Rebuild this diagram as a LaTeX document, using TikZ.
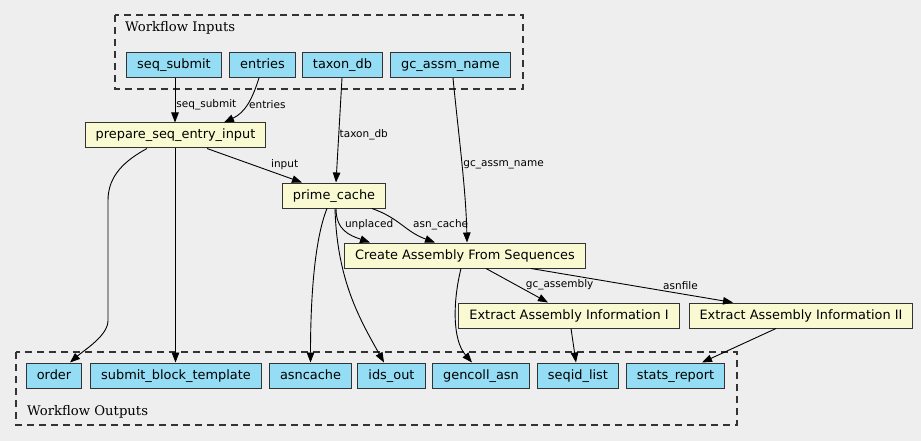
\documentclass[tikz,border=0pt]{standalone}
\usepackage{fontspec}
\setmainfont{DejaVu Sans}
\newfontfamily\clusterfont{DejaVu Serif}
\usepackage{xcolor}
\usetikzlibrary{arrows.meta}
\definecolor{bgcol}{RGB}{238,238,238}
\definecolor{iocol}{RGB}{148,221,244}
\definecolor{stepcol}{RGB}{250,250,210}
\definecolor{edgecol}{RGB}{51,51,51}

\begin{document}
\begin{tikzpicture}[x=1pt,y=1pt,yscale=-1,xscale=1,
    box/.style={draw=edgecol,line width=1pt,minimum height=25pt,inner xsep=10.5pt,inner ysep=0pt,
        text height=9.8pt,text depth=2.8pt,font=\fontsize{12.9}{14}\selectfont},
    iobox/.style={box,fill=iocol},
    stepbox/.style={box,fill=stepcol},
    flow/.style={draw=black,line width=0.9pt,-{Triangle[length=10pt,width=7.5pt]}},
    elabel/.style={inner sep=1pt,font=\fontsize{10.5}{12}\selectfont},
    cluster/.style={draw=edgecol,line width=1.3pt,dash pattern=on 7pt off 5pt},
    clabel/.style={anchor=west,inner sep=0pt,font=\clusterfont\fontsize{13.2}{14}\selectfont}]
        \fill[bgcol] (0,0) rectangle (921,441);
        \useasboundingbox (0,0) rectangle (921,441);

        \draw[cluster] (115,15) rectangle (523,89);
        \node[clabel] (inlabel) at (125,27.5) {Workflow Inputs};
        \draw[cluster] (16,352) rectangle (737,425);
        \node[clabel] (outlabel) at (27,411.5) {Workflow Outputs};

        \node[iobox] (seq) at (174,65) {seq\_submit};
        \node[iobox] (entries) at (262.5,65) {entries};
        \node[iobox] (taxon) at (342.5,65) {taxon\_db};
        \node[iobox] (gcname) at (450.5,65) {gc\_assm\_name};

        \node[stepbox] (prep) at (175.5,135.5) {prepare\_seq\_entry\_input};
        \node[stepbox] (prime) at (334,195.5) {prime\_cache};
        \node[stepbox] (create) at (465,255.5) {Create Assembly From Sequences};
        \node[stepbox] (extractI) at (569,315.5) {Extract Assembly Information I};
        \node[stepbox] (extractII) at (801,315.5) {Extract Assembly Information II};

        \node[iobox] (order) at (54,375.5) {order};
        \node[iobox] (subm) at (176,375.5) {submit\_block\_template};
        \node[iobox] (asncache) at (310.5,375.5) {asncache};
        \node[iobox] (idsout) at (391.5,375.5) {ids\_out};
        \node[iobox] (gencoll) at (481,375.5) {gencoll\_asn};
        \node[iobox] (seqid) at (578,375.5) {seqid\_list};
        \node[iobox] (stats) at (675.5,375.5) {stats\_report};

        \draw[flow] ([xshift=1pt]seq.south) -- ([xshift=1pt]seq.south |- prep.north) node[elabel,pos=0.6,anchor=west] (lseq) {seq\_submit};
        \draw[flow] ([xshift=-3.5pt]entries.south) .. controls +(-7,22) and +(21,-10) .. ([xshift=48.5pt]prep.north) node[elabel,pos=0.5,anchor=west,inner xsep=2pt] (lentries) {entries};
        \draw[flow] ([xshift=-0.5pt]taxon.south) -- ([xshift=2pt]prime.north) node[elabel,pos=0.54,anchor=west,inner xsep=0.5pt] (ltaxon) {taxon\_db};
        \draw[flow] ([xshift=2.5pt]gcname.south) .. controls +(5,52) and +(-1,-53) .. ([xshift=2pt]create.north) node[elabel,pos=0.53,anchor=west] (lgcname) {gc\_assm\_name};

        \draw[flow] ([xshift=31.5pt]prep.south) -- ([xshift=-32pt]prime.north) node[elabel,pos=0.66,anchor=south west] (linput) {input};
        \draw[flow] ([xshift=-28.5pt]prep.south) .. controls +(-22,12) and +(0,-25) .. ++(-39,52) -- ++(0,120) .. controls +(0,15) and +(15,-13) .. ([xshift=16pt]order.north);
        \draw[flow] (prep.south) -- (prep.south |- subm.north);

        \draw[flow] ([xshift=-7pt]prime.south) .. controls +(-13,32) and +(0,-60) .. (asncache.north);
        \draw[flow] ([xshift=1pt]prime.south) .. controls +(2,72) and +(-24,-43) .. ([xshift=-7.5pt]idsout.north);
        \draw[flow] ([xshift=2pt]prime.south) .. controls +(0,22) and +(-20,-7) .. ([xshift=-95pt]create.north) node[elabel,pos=0.3,anchor=west,inner xsep=5pt] (lunplaced) {unplaced};
        \draw[flow] ([xshift=38pt]prime.south) .. controls +(28,10) and +(-30,-11) .. ([xshift=-30pt]create.north) node[elabel,pos=0.5,anchor=west,inner xsep=10pt] (lasncache) {asn\_cache};

        \draw[flow] ([xshift=-4pt]create.south) .. controls +(-8,32) and +(-20,-23) .. ([xshift=-9pt]gencoll.north);
        \draw[flow] ([xshift=21pt]create.south) -- ([xshift=-21pt]extractI.north) node[elabel,pos=0.49,anchor=west,inner xsep=9pt] (lgcassembly) {gc\_assembly};
        \draw[flow] ([xshift=66pt]create.south) -- ([xshift=-68pt]extractII.north) node[elabel,pos=0.74,anchor=south,inner ysep=3.5pt] (lasnfile) {asnfile};

        \draw[flow] ([xshift=2pt]extractI.south) -- ([xshift=-2pt]seqid.north);
        \draw[flow] ([xshift=-25pt]extractII.south) -- ([xshift=26.5pt]stats.north);
\end{tikzpicture}
\end{document}
